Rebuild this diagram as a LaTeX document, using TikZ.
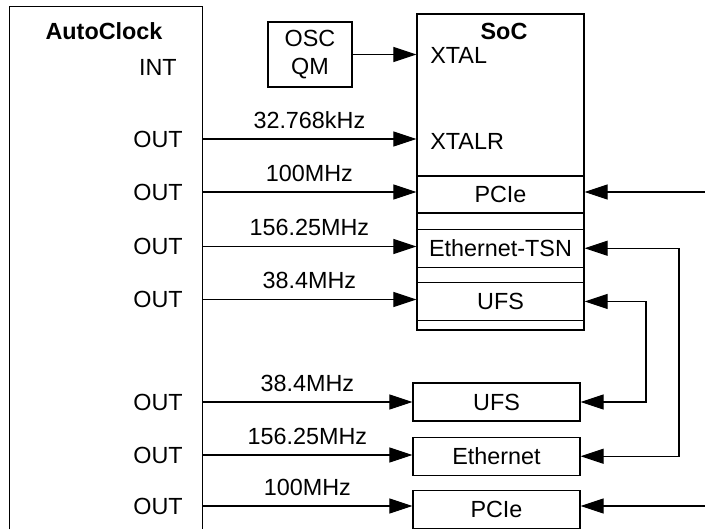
\documentclass[tikz,border=0pt]{standalone}
\usepackage{fontspec}
\setmainfont{Liberation Sans}
\usepackage{xcolor}
\usetikzlibrary{arrows.meta,positioning}

\begin{document}
\begin{tikzpicture}[
    x=0.02cm, y=-0.02cm,
    font=\fontsize{13.3}{16}\selectfont,
    node distance=0.3cm and 0.65cm,
    box/.style={draw, line width=0.7pt, minimum width=3.34cm, minimum height=0.76cm, inner sep=0pt, align=center},
    heading/.style={font=\fontsize{13.3}{16}\selectfont\bfseries, inner sep=0pt},
    portlbl/.style={anchor=east, inner sep=0pt},
    freq/.style={midway, above=2.5pt},
    arrow/.style={-{Triangle[length=4.6mm, width=3mm]}, line width=0.6pt},
    twoway/.style={{Triangle[length=4.6mm, width=3mm]}-{Triangle[length=4.6mm, width=3mm]}, line width=0.6pt}
  ]
    \useasboundingbox (0,0) rectangle (705,529);

    % AutoClock block, open at the bottom
    \node[minimum width=3.84cm, minimum height=10.44cm, inner sep=0pt] (auto) at (106,268) {};
    \draw[line width=0.7pt] (auto.south west) |- (auto.north east) -- (auto.south east);
    \node[heading] (autoname) at (104,31) {AutoClock};
    \node[portlbl] (int) at (177,67) {INT};
    \node[portlbl] (o1) at (183,139) {OUT};
    \node[portlbl] (o2) at (183,192) {OUT};
    \node[portlbl] (o3) at (183,246.5) {OUT};
    \node[portlbl] (o4) at (183,299.5) {OUT};
    \node[portlbl] (o5) at (183,402) {OUT};
    \node[portlbl] (o6) at (183,455) {OUT};
    \node[portlbl] (o7) at (183,506) {OUT};

    % oscillator
    \node[box, minimum width=1.68cm, minimum height=1.3cm] (osc) at (310,54.5) {OSC\\QM};

    % SoC block with its clock inputs
    \node[box, minimum height=6.32cm] (soc) at (500.5,172) {};
    \node[heading] (socname) at (504,31) {SoC};
    \node[anchor=west, inner sep=0pt] (xtal) at (430,55) {XTAL};
    \node[anchor=west, inner sep=0pt] (xtalr) at (430,141) {XTALR};
    \node[box, minimum height=0.74cm] (socpcie) at (500.5,194.5) {PCIe};
    \node[box, below=of socpcie] (soceth) {Ethernet-TSN};
    \node[box, below=0.28cm of soceth] (socufs) {UFS};

    % peripherals
    \node[box] (ufs) at (496.5,402) {UFS};
    \node[box, below=of ufs] (eth) {Ethernet};
    \node[box, below=0.28cm of eth] (pcie) {PCIe};

    \coordinate (inpcie) at (705,192);
    \coordinate (inpcieb) at (705,506);
    \coordinate (ethbus) at (679,0);
    \coordinate (ufsbus) at (646,0);

    \draw[arrow] (osc.east) -- (osc.east -| soc.west);
    \draw[arrow] (o1 -| auto.east) -- (o1 -| soc.west) node[freq] {32.768kHz};
    \draw[arrow] (o2 -| auto.east) -- (o2 -| socpcie.west) node[freq] {100MHz};
    \draw[arrow] (o3 -| auto.east) -- (o3 -| soceth.west) node[freq] {156.25MHz};
    \draw[arrow] (o4 -| auto.east) -- (o4 -| socufs.west) node[freq] {38.4MHz};
    \draw[arrow] (o5 -| auto.east) -- (o5 -| ufs.west) node[freq] {38.4MHz};
    \draw[arrow] (o6 -| auto.east) -- (o6 -| eth.west) node[freq] {156.25MHz};
    \draw[arrow] (o7 -| auto.east) -- (o7 -| pcie.west) node[freq] {100MHz};

    \draw[arrow] (inpcie) -- (inpcie -| socpcie.east);
    \draw[arrow] (inpcieb) -- (inpcieb -| pcie.east);
    \draw[twoway] (soceth.east) -- (soceth.east -| ethbus) |- (eth.east);
    \draw[twoway] (socufs.east) -- (socufs.east -| ufsbus) |- (ufs.east);
  \end{tikzpicture}
\end{document}
